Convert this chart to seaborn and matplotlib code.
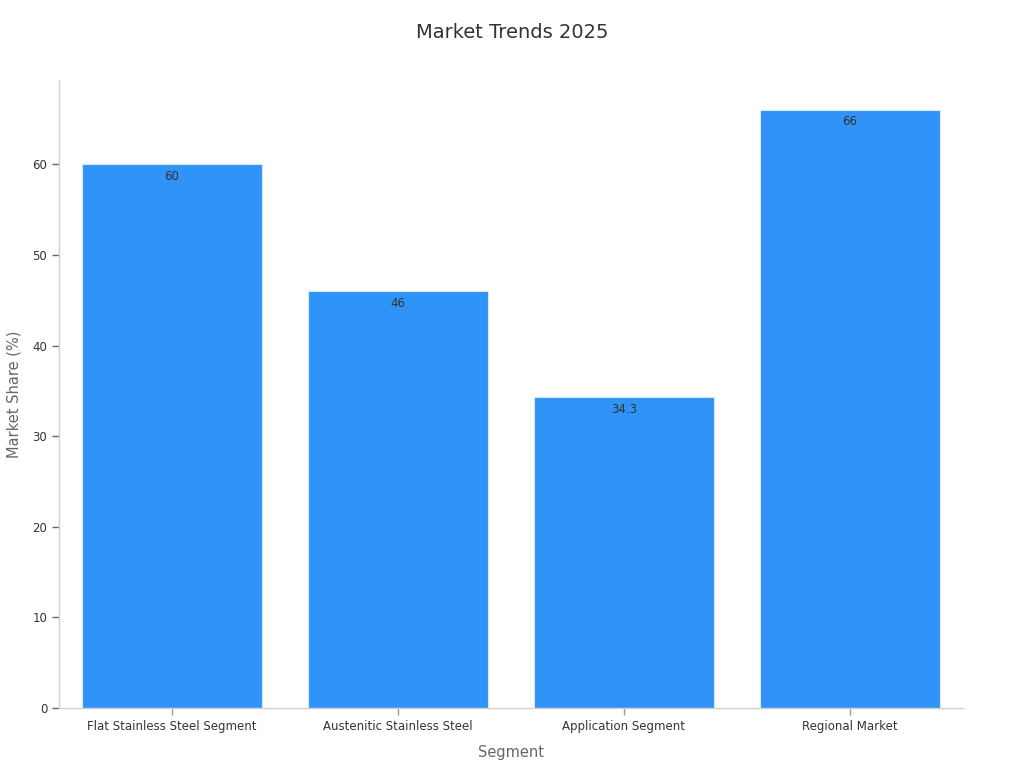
import matplotlib
matplotlib.use("Agg")
from matplotlib import pyplot as plt
import seaborn as sns
import pandas as pd

# Data
segments = ['Flat Stainless Steel Segment', 'Austenitic Stainless Steel',
            'Application Segment', 'Regional Market']
shares = [60, 46, 34.3, 66]
value_labels = ['60', '46', '34.3', '66']

df = pd.DataFrame({'Segment': segments, 'Share': shares})

sns.set_style('white')
plt.rcParams['font.family'] = ['DejaVu Sans']

fig = plt.figure(figsize=(10.24, 7.68), dpi=100)
ax = fig.add_axes([59 / 1024, 60 / 768, 904 / 1024, 628 / 768])

sns.barplot(data=df, x='Segment', y='Share', color='#2F93F8', width=0.8,
            edgecolor='#d6e9fc', linewidth=0.8, saturation=1, ax=ax)

for patch, lab in zip(ax.patches, value_labels):
    ax.text(patch.get_x() + patch.get_width() / 2, patch.get_height() - 0.6, lab,
            ha='center', va='top', fontsize=8.5, color='#333333')

ax.set_xlim(-0.5, 3.5)
ax.set_ylim(0, 69.3)
ax.set_yticks([0, 10, 20, 30, 40, 50, 60])

fig.text(0.5, 1 - 33 / 768, 'Market Trends 2025', ha='center', va='center',
         fontsize=14, color='#333333')
ax.set_xlabel('Segment', fontsize=10.5, color='#666666', labelpad=9)
ax.set_ylabel('Market Share (%)', fontsize=10.5, color='#666666', labelpad=8)

ax.tick_params(axis='both', labelsize=8.5, colors='#333333', length=5, width=1,
               bottom=True, left=True)
ax.tick_params(axis='x', color='#999999')
ax.tick_params(axis='y', color='#666666')

for side in ['top', 'right']:
    ax.spines[side].set_visible(False)
for side in ['left', 'bottom']:
    ax.spines[side].set_color('#d0d0d0')
    ax.spines[side].set_linewidth(1)

plt.savefig('out.png', dpi=100)
plt.close()
